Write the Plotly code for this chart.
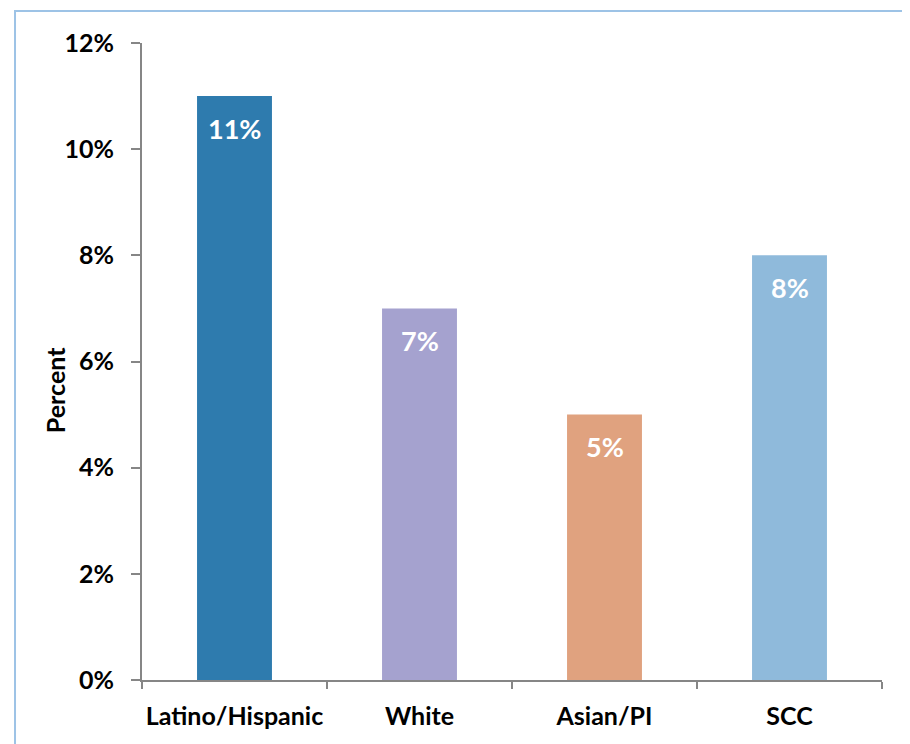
import plotly.graph_objects as go

categories = ["Latino/Hispanic", "White", "Asian/PI", "SCC"]
values = [11, 7, 5, 8]
labels = ["11%", "7%", "5%", "8%"]
colors = ["#2E7BAE", "#A5A2CF", "#E0A27F", "#8FBADB"]
tick_vals = [0, 2, 4, 6, 8, 10, 12]
tick_text = ["0%", "2%", "4%", "6%", "8%", "10%", "12%"]

font_family = "Lato, Open Sans, sans-serif"

fig = go.Figure(
    go.Bar(
        x=categories, y=values, marker_color=colors, marker_line_width=0,
        width=0.405, hoverinfo="x+y",
    )
)

# value labels sitting just below each bar top
for cat, val, lab in zip(categories, values, labels):
    fig.add_annotation(
        x=cat, y=val, text=lab, showarrow=False, yanchor="middle", yshift=-32,
        font=dict(color="white", size=27, family=font_family, weight="bold"),
    )

# y axis title placed like the original (a bit below centre)
fig.add_annotation(
    xref="paper", yref="paper", x=-0.1176, y=0.455, text="Percent", textangle=-90,
    showarrow=False, xanchor="center", yanchor="middle",
    font=dict(size=25, family=font_family, weight="bold", color="black"),
)

# page body has an 8px margin, so the figure is 8px smaller and margins shifted
fig.update_layout(
    width=902, height=736,
    margin=dict(l=134, r=28, t=35, b=64, autoexpand=False),
    plot_bgcolor="white", paper_bgcolor="white",
    showlegend=False,
    font=dict(family=font_family, color="black"),
    shapes=[dict(type="rect", xref="paper", yref="paper",
                 x0=-0.1716, x1=2, y0=-1, y1=1.0502,
                 line=dict(color="#9DC3E6", width=2), fillcolor="rgba(0,0,0,0)", layer="below")],
)
fig.update_yaxes(
    range=[0, 12], tickvals=tick_vals, ticktext=tick_text,
    showgrid=False, zeroline=False, showline=True, linecolor="#868686", linewidth=2,
    ticks="outside", ticklen=9, tickcolor="#868686", tickwidth=2,
    tickfont=dict(size=25, family=font_family, weight="bold"),
    ticklabelstandoff=12,
)
fig.update_xaxes(
    showgrid=False, showline=True, linecolor="#868686", linewidth=2,
    ticks="outside", ticklen=7, tickcolor="#868686", tickwidth=2, tickson="boundaries",
    tickfont=dict(size=25, family=font_family, weight="bold"), tickangle=0,
    ticklabelstandoff=13,
    range=[-0.5, 3.5],
)

fig.write_html("out.html")
